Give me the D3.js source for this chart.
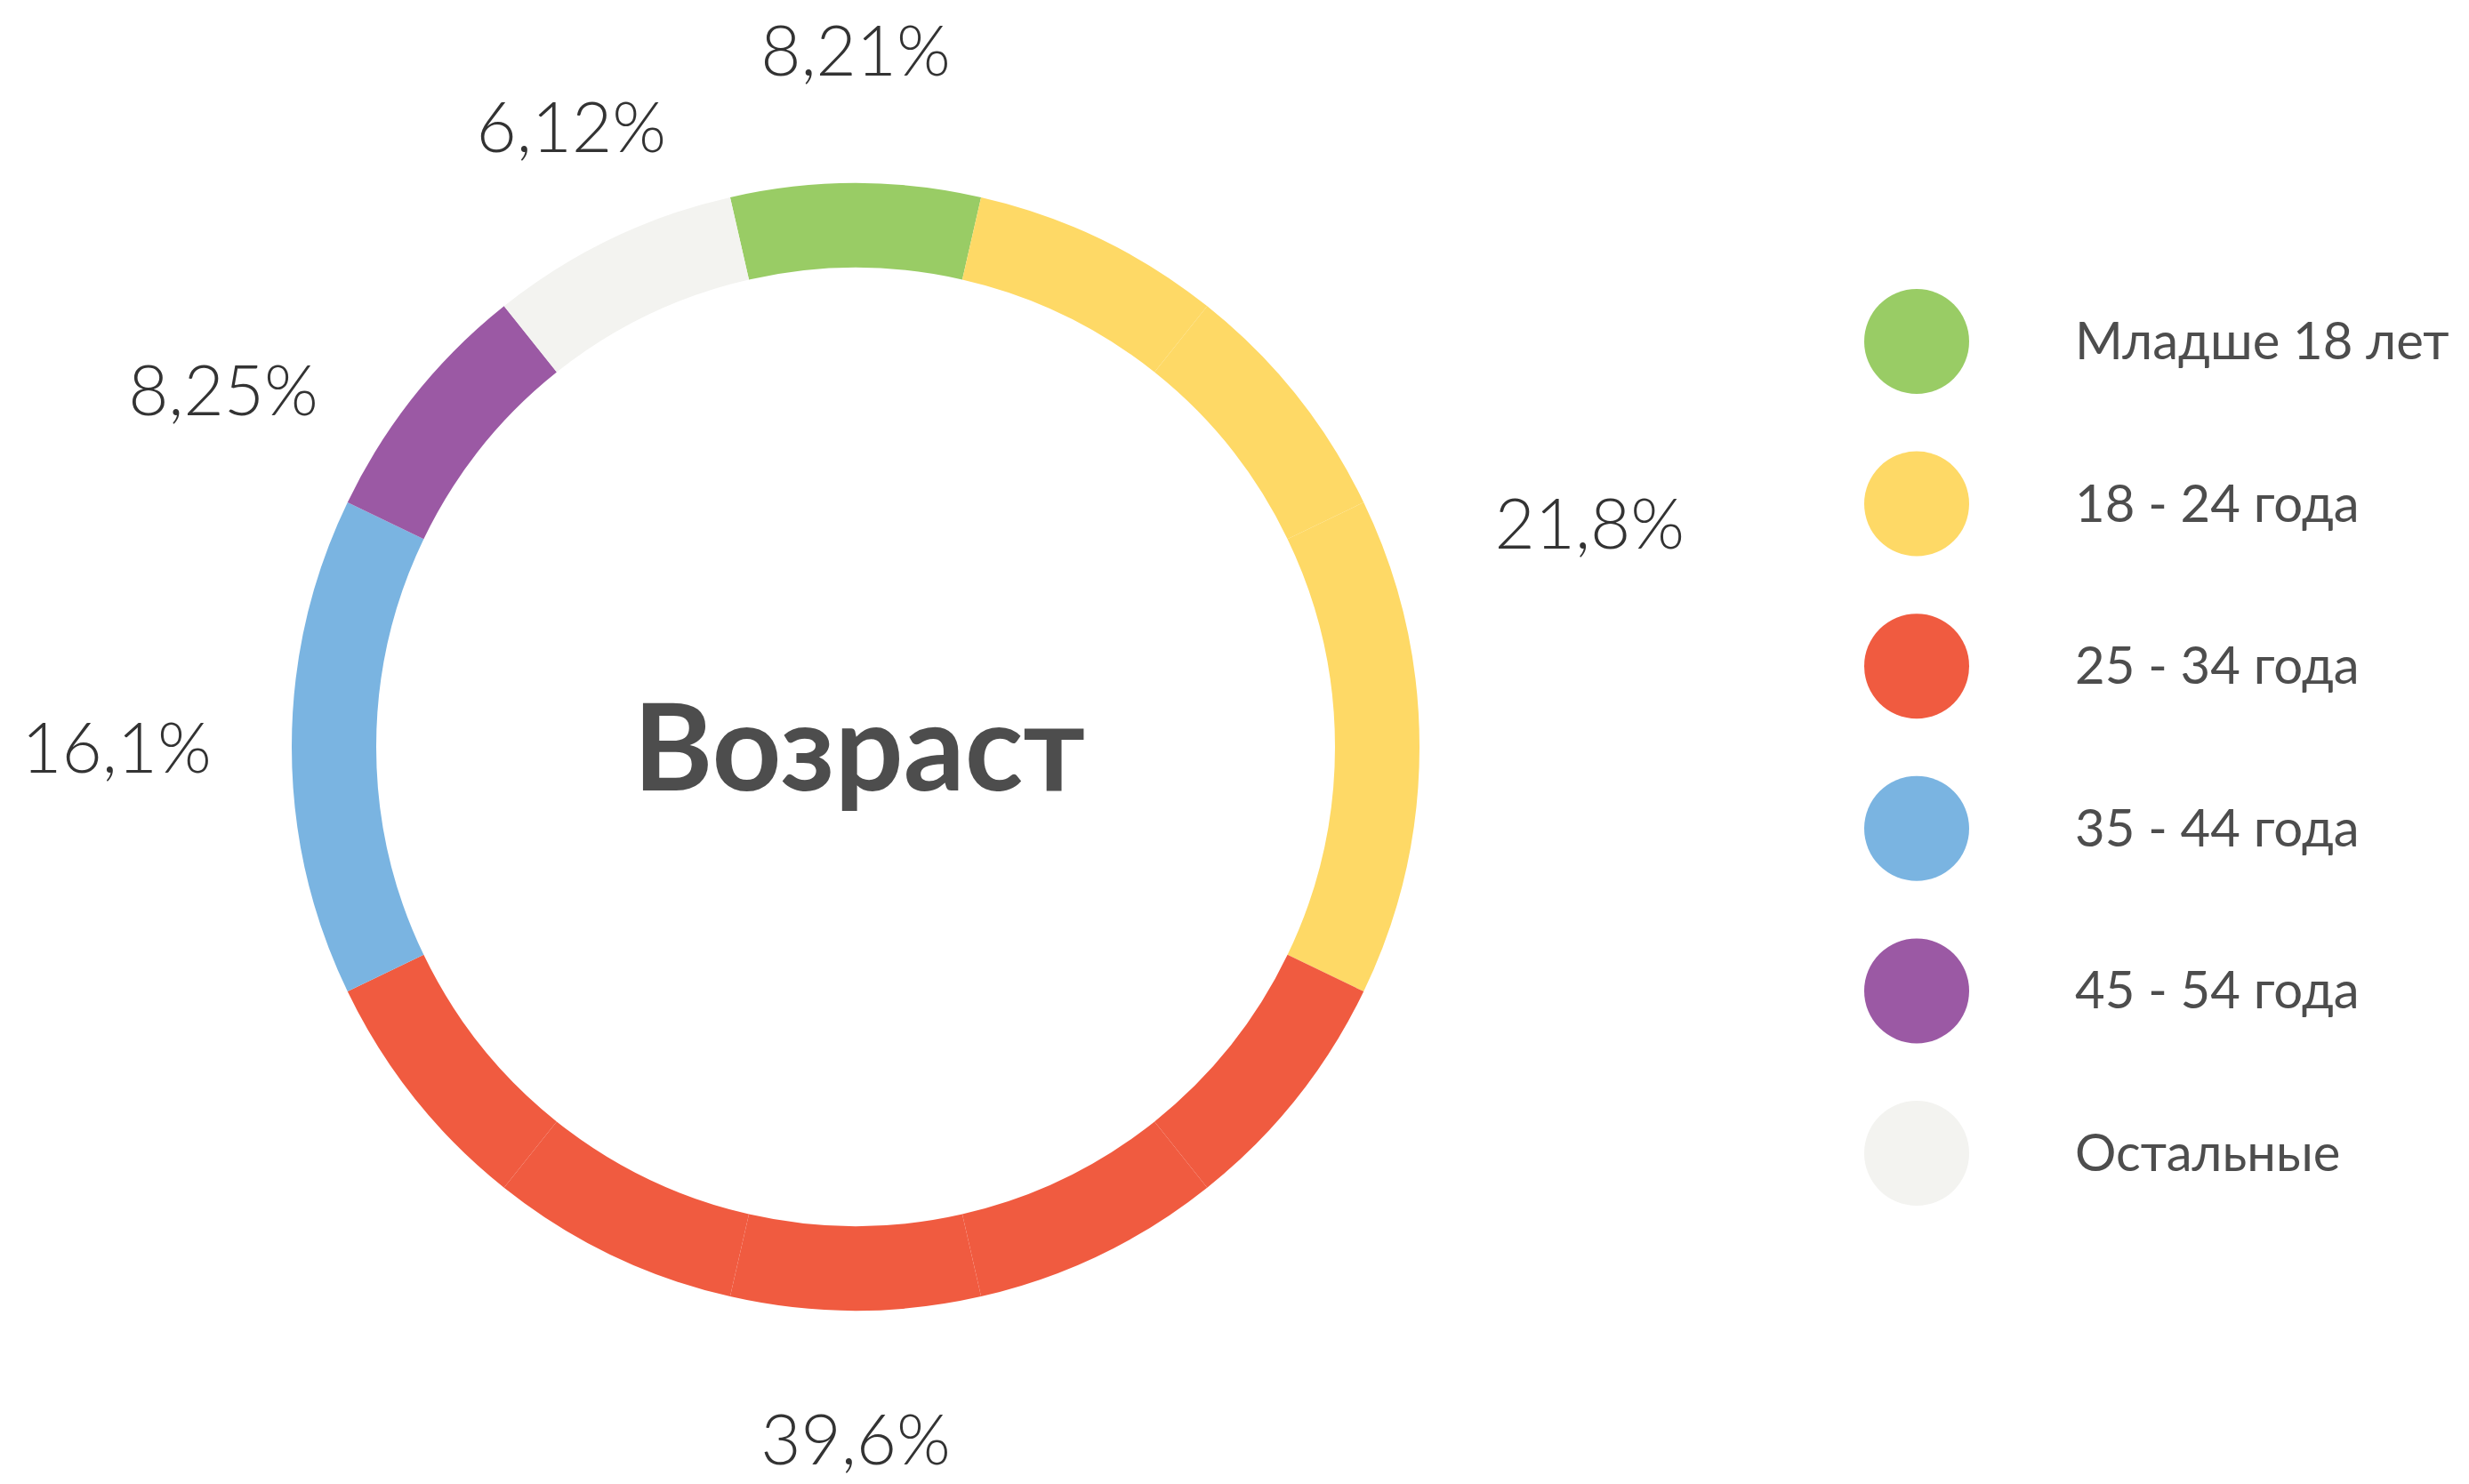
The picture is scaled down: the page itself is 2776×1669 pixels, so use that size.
<!DOCTYPE html>
<html>
<head>
<meta charset="utf-8">
<script src="https://cdn.jsdelivr.net/npm/d3@7"></script>
<style>
  html, body { margin: 0; padding: 0; background: #fff; }
  svg { display: block; }
</style>
</head>
<body>
<svg id="chart" width="2776" height="1669"></svg>
<script>
// DATA
const categories = ["Младше 18 лет", "18 - 24 года", "25 - 34 года", "35 - 44 года", "45 - 54 года", "Остальные"];
const shares = [8.21, 21.8, 39.6, 16.1, 8.25, 6.12];
// the ring is drawn as 14 equal pieces, this is how many each group gets
const segments = [1, 4, 5, 2, 1, 1];
const colors = ["#99cc65", "#fed966", "#f05b40", "#7ab4e1", "#9b59a4", "#f3f3f0"];
const title = "Возраст";

// CANVAS SETUP
const svg = d3.select("#chart");
const cx = 962, cy = 840;
const outerR = 634, innerR = 539;

// label placement (angle in degrees from top, distance from centre)
const labelAngle = [0, 73, 180, 270, 299.5, 335.4];
const labelDist = [784, 863, 778, 831, 817, 768];

// RENDER PREPARATION
const pieces = segments.flatMap((n, gi) => d3.range(n).map(() => ({ group: gi })));
const total = pieces.length;
const offset = Math.PI / total;

const pie = d3.pie()
  .value(1)
  .sort(null)
  .startAngle(-offset)
  .endAngle(2 * Math.PI - offset);

const arc = d3.arc().innerRadius(innerR).outerRadius(outerR);

const g = svg.append("g").attr("transform", `translate(${cx},${cy})`);

g.selectAll("path")
  .data(pie(pieces))
  .join("path")
  .attr("d", arc)
  .attr("fill", (d) => colors[d.data.group]);

// centre title
g.append("text")
  .attr("text-anchor", "middle")
  .attr("x", 4)
  .attr("y", 49)
  .attr("font-family", "Lato, 'Open Sans', sans-serif")
  .attr("font-weight", 700)
  .attr("font-size", 136)
  .attr("fill", "#4d4d4d")
  .text(title);

// percent labels
const fmt = (v) => String(v).replace(".", ",") + "%";
g.selectAll("text.pct")
  .data(shares)
  .join("text")
  .attr("class", "pct")
  .attr("text-anchor", "middle")
  .attr("x", (d, i) => labelDist[i] * Math.sin((labelAngle[i] * Math.PI) / 180))
  .attr("y", (d, i) => -labelDist[i] * Math.cos((labelAngle[i] * Math.PI) / 180) + 29)
  .attr("font-family", "Lato, 'Open Sans', sans-serif")
  .attr("font-weight", 300)
  .attr("font-size", 78)
  .attr("fill", "#333333")
  .text(fmt);

// LEGEND
const legendY = d3.scalePoint().domain(categories).range([384, 1297]);
const legend = svg.append("g");
const rows = legend.selectAll("g")
  .data(categories)
  .join("g")
  .attr("transform", (d) => `translate(0,${legendY(d)})`);

rows.append("circle")
  .attr("cx", 2155)
  .attr("r", 59)
  .attr("fill", (d, i) => colors[i]);

rows.append("text")
  .attr("x", 2333)
  .attr("y", 20)
  .attr("font-family", "Lato, 'Open Sans', sans-serif")
  .attr("font-size", 58)
  .attr("fill", "#4d4d4d")
  .text((d) => d);
</script>
</body>
</html>
